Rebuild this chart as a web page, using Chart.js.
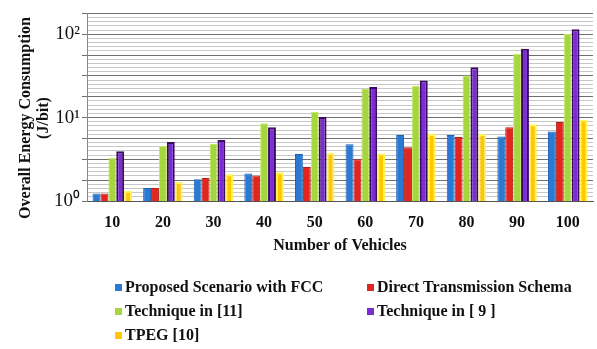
<!DOCTYPE html>
<html>
<head>
<meta charset="utf-8">
<script src="https://cdn.jsdelivr.net/npm/chart.js@4"></script>
<style>
  html, body { margin: 0; padding: 0; background: #fff; }
  #wrap { position: relative; width: 597px; height: 349px; }
  #chart { position: absolute; left: 0; top: 0; }
  #legend { position: absolute; left: 0; top: 0; width: 597px; height: 349px; pointer-events: none;
            font-family: "Liberation Serif", "Times New Roman", serif; font-weight: bold; font-size: 16px; color: #111; }
  .item { position: absolute; white-space: nowrap; line-height: 18px; }
  .box { display: inline-block; width: 7px; height: 7px; margin-right: 3px; vertical-align: 1px; }
</style>
</head>
<body>
<div id="wrap">
  <canvas id="chart" width="597" height="260"></canvas>
  <div id="legend"></div>
</div>
<script>
// x 카테고리 (차량 수)
const vehicles = ['10', '20', '30', '40', '50', '60', '70', '80', '90', '100'];

// 그림에서 읽은 값 (J/bit, 로그축)
const proposedFCC = [1.23, 1.43, 1.82, 2.13, 3.66, 4.79, 6.18, 6.18, 5.92, 6.80];
const directTx    = [1.23, 1.43, 1.89, 2.02, 2.56, 3.16, 4.40, 5.85, 7.65, 8.86];
const technique11 = [3.31, 4.57, 4.82, 8.54, 11.8, 22.0, 23.9, 31.9, 57.9, 100.5];
const technique9  = [3.94, 5.10, 5.39, 7.65, 10.2, 23.3, 27.8, 40.1, 67.2, 115];
const tpeg10      = [1.32, 1.69, 2.09, 2.21, 3.80, 3.70, 6.36, 6.36, 8.31, 9.46];

const seriesNames = ['Proposed Scenario with FCC', 'Direct Transmission Schema',
                     'Technique in [11]', 'Technique in [ 9 ]', 'TPEG [10]'];

// y축 눈금: 0.05 decade 간격, 10^0 / 10^1 / 10^2 에만 라벨
const yTickExps = [];
for (let k = 0; k <= 45; k++) yTickExps.push(k / 20);
const yTickLabels = { 0: '10\u2070', 20: '10\u00b9', 40: '10\u00b2' };
const yTitleLines = ['Overall Energy Consumption', '(J/bit)'];

const serif = '"Liberation Serif", "Times New Roman", serif';

const datasets = [
  { label: seriesNames[0], data: proposedFCC, backgroundColor: '#2a7ad4', borderColor: '#1d62b0', borderWidth: 1 },
  { label: seriesNames[1], data: directTx,    backgroundColor: '#e0261f', borderColor: '#b81c16', borderWidth: 1 },
  { label: seriesNames[2], data: technique11, backgroundColor: '#a6d63f', borderColor: '#c4e86a', borderWidth: 1 },
  { label: seriesNames[3], data: technique9,  backgroundColor: '#7a2ed2', borderColor: '#3a0c5e', borderWidth: 2 },
  { label: seriesNames[4], data: tpeg10,      backgroundColor: '#ffc800', borderColor: '#fff35a', borderWidth: 2 },
];

// 세로 축 제목: 원본처럼 약간 아래쪽 중심에 두 줄로
const yTitlePlugin = {
  id: 'yTitle',
  afterDraw(c) {
    const ctx = c.ctx;
    ctx.save();
    ctx.translate(0, 118);
    ctx.rotate(-Math.PI / 2);
    ctx.fillStyle = '#111';
    ctx.font = 'bold 16px ' + serif;
    ctx.textAlign = 'center';
    ctx.textBaseline = 'middle';
    ctx.fillText(yTitleLines[0], 0, 26);
    ctx.fillText(yTitleLines[1], 0, 44);
    ctx.restore();
  }
};

const chart = new Chart(document.getElementById('chart').getContext('2d'), {
  type: 'bar',
  data: { labels: vehicles, datasets: datasets.map(d => Object.assign({ borderSkipped: 'bottom' }, d)) },
  plugins: [yTitlePlugin],
  options: {
    responsive: false,
    animation: false,
    layout: { padding: { left: 0, top: 13, right: 4, bottom: 0 } },
    plugins: { legend: { display: false }, tooltip: { enabled: false } },
    datasets: { bar: { categoryPercentage: 0.78, barPercentage: 1.0 } },
    scales: {
      x: {
        grid: { display: false },
        border: { color: '#555', width: 1 },
        ticks: { color: '#111', padding: 4, font: { family: serif, size: 16, weight: 'bold' } },
        title: { display: true, text: 'Number of Vehicles', color: '#111',
                 padding: { top: 0, bottom: 5 }, font: { family: serif, size: 16, weight: 'bold' } },
        afterFit: s => { s.height = 59; }
      },
      y: {
        type: 'logarithmic',
        min: 1,
        max: Math.pow(10, 2.25),
        afterBuildTicks: s => { s.ticks = yTickExps.map(e => ({ value: Math.pow(10, e) })); },
        grid: {
          color: c => (c.index % 5 === 0 ? '#6e6e6e' : '#c8c8c8'),
          lineWidth: 1,
          tickLength: 5,
          tickColor: c => (c.index % 5 === 0 ? '#6e6e6e' : 'rgba(0,0,0,0)')
        },
        border: { color: '#888', width: 1 },
        ticks: {
          autoSkip: false,
          padding: 2,
          color: '#111',
          font: { family: serif, size: 19 },
          callback: (v, i) => (yTickLabels[i] !== undefined ? yTickLabels[i] : '')
        },
        afterFit: s => { s.width = 87; }
      }
    }
  }
});

// 범례: 2열 배치 (데이터셋에서 색/이름을 가져온다)
const legendPos = [[115, 278], [367, 278], [115, 302], [367, 302], [115, 326]];
const legendEl = document.getElementById('legend');
chart.data.datasets.forEach((d, i) => {
  const el = document.createElement('div');
  el.className = 'item';
  el.style.left = legendPos[i][0] + 'px';
  el.style.top = legendPos[i][1] + 'px';
  el.innerHTML = '<span class="box" style="background:' + d.backgroundColor + '"></span>' + d.label;
  legendEl.appendChild(el);
});
</script>
</body>
</html>
